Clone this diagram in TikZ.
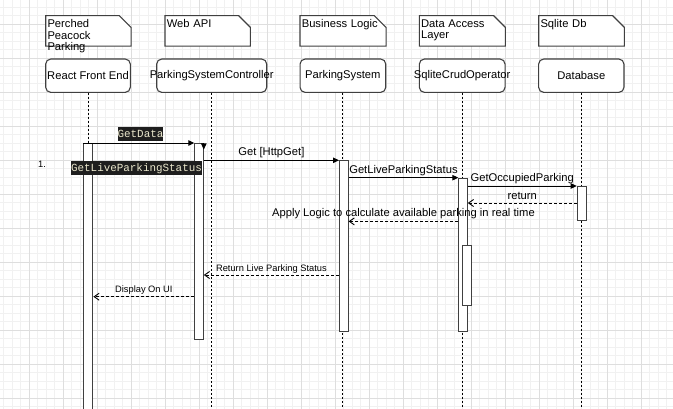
\documentclass[tikz,border=0pt]{standalone}
\usepackage{fontspec}
\setmainfont{Liberation Sans}
\newfontfamily\monofont{Liberation Mono}
\usetikzlibrary{arrows.meta,calc}
\definecolor{boxgray}{HTML}{404040}
\definecolor{codebg}{HTML}{1E1E1E}
\definecolor{codefg}{HTML}{EAE7CC}
\definecolor{gridmajor}{HTML}{DEDEDE}
\definecolor{gridminor}{HTML}{F1F1F1}
\begin{document}
\begin{tikzpicture}[x=1pt,y=-1pt,
  notebox/.style={inner sep=0pt, minimum width=85pt, minimum height=30pt, anchor=north west},
  noteline/.style={draw=boxgray, line width=1.1pt, fill=white},
  notetext/.style={anchor=north west, inner sep=0pt, align=left, font=\fontsize{11.2}{11.6}\selectfont, text width=84pt},
  head/.style={draw=boxgray, line width=1.1pt, rounded corners=5pt, minimum height=33.3pt, inner sep=0pt, font=\fontsize{11.2}{13}\selectfont, fill=white},
  bar/.style={draw=boxgray, line width=1.1pt, fill=white, inner sep=0pt, anchor=north west},
  life/.style={line width=0.9pt, dash pattern=on 2pt off 2pt},
  msg/.style={line width=0.9pt, -{Triangle[length=6pt,width=5.5pt]}},
  ret/.style={line width=0.9pt, dash pattern=on 3pt off 2pt, -{Straight Barb[length=5pt,width=7pt]}},
  lbl/.style={font=\fontsize{11.2}{13}\selectfont, inner sep=0pt, text height=8pt, text depth=2.5pt},
  slbl/.style={font=\fontsize{9.3}{11}\selectfont, inner sep=0pt, text height=7pt, text depth=2pt},
  code/.style={fill=codebg, text=codefg, font=\monofont\fontsize{10.9}{12}\selectfont, inner xsep=0pt, inner ysep=0.8pt, text height=9.5pt, text depth=3.2pt}
]
\useasboundingbox (0,0) rectangle (673,409);
\fill[white] (0,0) rectangle (673,409);
% grid
\foreach \i in {0,...,80} { \draw[gridminor, line width=0.5pt] ({-5+8.5*\i},0) -- ({-5+8.5*\i},409); }
\foreach \i in {0,...,48} { \draw[gridminor, line width=0.5pt] (0,{-1.5+8.5*\i}) -- (673,{-1.5+8.5*\i}); }
\foreach \i in {0,...,18} { \draw[gridmajor, line width=0.6pt] ({29+34*\i},0) -- ({29+34*\i},409); }
\foreach \i in {0,...,11} { \draw[gridmajor, line width=0.6pt] (0,{24+34*\i}) -- (673,{24+34*\i}); }
\coordinate (bot) at (0,409);

% lifeline heads
\node[head, minimum width=84.6pt] (h1) at (88,75.7) {React Front End};
\node[head, minimum width=110pt] (h2) at (211.7,75.7) {};
\node[lbl] (h2t) at (h2.center) {ParkingSystemController};
\node[head, minimum width=85.7pt] (h3) at (342.9,75.7) {ParkingSystem};
\node[head, minimum width=85.7pt] (h4) at (462.2,75.7) {};
\node[lbl] (h4t) at (h4.center) {SqliteCrudOperator};
\node[head, minimum width=85.3pt] (h5) at (581.3,75.7) {Database};

% lifelines
\draw[life] (h1.south) -- (h1.south |- bot);
\draw[life] (h2.south) -- (h2.south |- bot);
\draw[life] (h3.south) -- (h3.south |- bot);
\draw[life] (h4.south) -- (h4.south |- bot);
\draw[life] (h5.south) -- (h5.south |- bot);

% activation bars
\node[bar, minimum width=9pt, minimum height=272pt] (A1) at (83.3,143) {};
\node[bar, minimum width=8.4pt, minimum height=196pt] (A2) at (194.3,143) {};
\node[bar, minimum width=8.5pt, minimum height=170.4pt] (A3) at (339,160.3) {};
\node[bar, minimum width=8.4pt, minimum height=153pt] (A4) at (458.3,177.7) {};
\node[bar, minimum width=8.7pt, minimum height=60pt] (A4b) at (462.3,245.3) {};
\node[bar, minimum width=9pt, minimum height=34.3pt] (A5) at (576.7,186) {};

% notes
\node[notebox] (n1) at (45.7,15.7) {};
\node[notebox] (n2) at (165,15.7) {};
\node[notebox, minimum width=85.7pt] (n3) at (300,15.7) {};
\node[notebox, minimum width=85.7pt] (n4) at (419.3,15.7) {};
\node[notebox, minimum width=85.3pt] (n5) at (538.7,15.7) {};
\foreach \n in {n1,n2,n3,n4,n5} {
  \draw[noteline] (\n.north west) -- ($(\n.north east)+(-11.7,0)$) -- ($(\n.north east)+(0,11.7)$) -- (\n.south east) -- (\n.south west) -- cycle;
}
\node[notetext] (t1) at ($(n1.north west)+(1.6,3.6)$) {Perched\\Peacock\\Parking};
\node[notetext] (t2) at ($(n2.north west)+(1.6,3.6)$) {Web API};
\node[notetext] (t3) at ($(n3.north west)+(1.6,3.6)$) {Business Logic};
\node[notetext] (t4) at ($(n4.north west)+(1.6,3.6)$) {Data Access\\Layer};
\node[notetext] (t5) at ($(n5.north west)+(1.6,3.6)$) {Sqlite Db};

% messages
\draw[msg] (A1.north west) -- (A2.north west);
\coordinate (dtip) at ($(A2.north east)+(0,6.5)$);
\draw[msg] (A2.north east) -- (dtip);
\draw[msg] (A2.east |- A3.north) -- node[lbl, yshift=7.6pt]{Get [HttpGet]} (A3.north west);
\draw[msg] (A3.east |- A4.north) -- node[lbl, yshift=7pt]{GetLiveParkingStatus} (A4.north west);
\draw[msg] (A4.east |- A5.north) -- node[lbl, yshift=7.3pt]{GetOccupiedParking} (A5.north west);
\coordinate (r1) at ($(A5.north west)+(0,17)$);
\draw[ret] (r1) -- node[lbl, yshift=6.7pt]{return} (A4.east |- r1);
\draw[ret] (A4.west |- A5.south) -- node[lbl, yshift=7.7pt]{Apply Logic to calculate available parking in real time} (A3.east |- A5.south);
\coordinate (r2) at ($(A3.north west)+(0,114.7)$);
\draw[ret] (r2) -- node[slbl, yshift=6pt]{Return Live Parking Status} (A2.east |- r2);
\coordinate (r3) at ($(A2.north west)+(0,153.7)$);
\draw[ret] (r3) -- node[slbl, yshift=6.7pt]{Display On UI} (A1.east |- r3);

% code-styled labels
\node[code] (gd) at (140.5,134.2) {GetData};
\node[code] (glps) at (136.5,168.2) {GetLiveParkingStatus};
\node[slbl] (one) at (42,165) {1.};
\end{tikzpicture}
\end{document}
